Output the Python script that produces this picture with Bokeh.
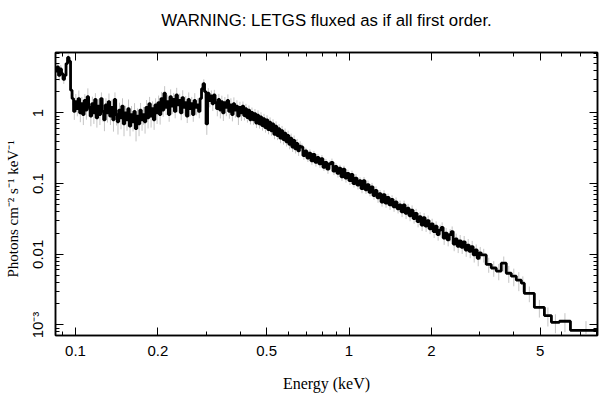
from bokeh.plotting import figure
from bokeh.models import Range1d, FixedTicker, LogAxis, CustomJSTickFormatter, Title
from bokeh.embed import file_html
from bokeh.resources import INLINE
import numpy as np

title_text = "WARNING: LETGS fluxed as if all first order."
x_label = "Energy (keV)"
y_label = "Photons cm\u207b\u00b2 s\u207b\u00b9 keV\u207b\u00b9"

x_ticks = [0.1, 0.2, 0.5, 1, 2, 5]
x_tick_labels = ["0.1", "0.2", "0.5", "1", "2", "5"]
x_minor = [0.09, 0.3, 0.4, 0.6, 0.7, 0.8, 0.9, 3, 4, 6, 7, 8]
y_ticks = [0.001, 0.01, 0.1, 1]
y_tick_labels = ["10\u207b\u00b3", "0.01", "0.1", "1"]

# --- fine channel grid, part 1 (0.0845 - 0.6669 keV) ---
grid1_keV = (0.0845, 0.6669)
flux_1 = [
    3.9, 4.5, 3.4, 4.2, 3.6, 3.0, 3.4, 5.0, 6.1, 5.4, 2.1, 1.6,
    1.05, 1.45, 1.15, 1.6, 1.0, 1.35, 0.95, 1.5, 1.1, 1.7, 1.2, 0.9,
    1.35, 1.0, 1.55, 0.85, 1.25, 0.95, 1.6, 1.05, 0.8, 1.3, 1.0, 1.45, 0.9,
    1.2, 0.8, 1.55, 0.95, 0.75, 1.1, 0.85, 1.25, 0.7, 1.0,
    0.8, 1.15, 0.65, 0.95, 0.75, 1.05, 0.6, 0.9, 0.7, 1.1, 0.8, 0.95, 0.75,
    1.2, 0.85, 1.35, 0.9, 1.15, 0.8, 1.3, 1.0, 1.4, 0.95,
    1.6, 1.1, 1.9, 1.2, 1.45, 0.95, 1.7, 1.25, 1.55, 1.05,
    1.8, 1.3, 1.5, 1.0, 1.65, 1.2, 1.4, 0.9, 1.55, 1.15,
    1.35, 0.95, 1.5, 1.2, 1.3, 1.05, 1.6,
    2.2, 2.6, 2.0, 0.7, 1.9, 1.5, 1.75, 1.35, 1.8, 1.4,
    1.15, 1.55, 1.1, 1.45, 1.0, 1.4, 1.2, 1.5, 1.05, 1.3,
    0.95, 1.35, 1.1, 1.25, 0.9, 1.2, 1.0,
    1.25, 0.92, 1.15, 0.86, 1.1, 0.8, 1.02, 0.8, 0.98, 0.72,
    0.93, 0.7, 0.88, 0.66, 0.83, 0.62, 0.8, 0.58, 0.74, 0.56,
    0.7, 0.5, 0.65, 0.48, 0.6, 0.44, 0.56, 0.42, 0.52, 0.39,
    0.48, 0.36, 0.44, 0.33, 0.41, 0.31, 0.37, 0.29, 0.34,
]
err_pct_1 = [
    15, 12, 16, 13, 15, 14, 16, 12, 10, 12, 18, 20,
    24, 28, 22, 30, 26, 25, 29, 23, 27, 31, 24, 28, 26, 30, 23, 27, 25, 29, 22, 28, 31, 24, 27, 30, 25,
    28, 32, 26, 30, 34, 27, 31, 29, 33, 26, 30, 35, 28, 32, 27, 31, 34, 29, 33, 26, 30, 28, 32, 27, 29, 25, 31,
    27, 28, 24, 30, 26, 28,
    24, 20, 26, 22, 25, 21, 27, 23, 24, 20, 26, 22, 25, 21, 27, 23, 24, 20, 26, 22, 25, 21, 27, 23, 24, 20, 26,
    18, 15, 19, 30, 18, 20, 19, 21, 18, 20,
    22, 20, 24, 21, 23, 20, 25, 22, 21, 24, 20, 23, 22, 21, 25, 20, 23,
    16, 15, 17, 15, 16, 14, 17, 15, 16, 15, 17, 14, 16, 15, 17, 15, 16, 14, 17, 15,
    16, 15, 17, 14, 16, 15, 17, 15, 16, 14, 17, 15, 16, 15, 17, 14, 16, 15, 17,
]

# --- channel grid, part 2 (0.6669 - 3.0432 keV) ---
grid2_keV = (0.6669, 3.0432)
flux_2 = [
    0.33, 0.25, 0.29, 0.23, 0.27, 0.21, 0.26, 0.20, 0.235, 0.19,
    0.225, 0.17, 0.2, 0.16, 0.19, 0.2, 0.15, 0.175, 0.14, 0.165,
    0.125, 0.16, 0.12, 0.14, 0.11, 0.135, 0.1, 0.12, 0.095, 0.11,
    0.085, 0.11, 0.082, 0.097, 0.075, 0.09, 0.068, 0.08, 0.063, 0.072,
    0.055, 0.07, 0.053, 0.064, 0.05, 0.06, 0.047, 0.055, 0.044, 0.05,
    0.04, 0.05, 0.038, 0.045, 0.035, 0.042, 0.032, 0.038, 0.029, 0.034,
    0.026, 0.033, 0.025, 0.03, 0.023, 0.027, 0.021, 0.025, 0.019, 0.022,
    0.024, 0.017, 0.02, 0.016, 0.019, 0.021, 0.014, 0.0165, 0.013, 0.0155,
    0.0125, 0.015, 0.0115, 0.0135, 0.011, 0.0128, 0.0098, 0.0115, 0.0088, 0.0105,
]
err_pct_2 = [
    12, 13, 11, 12, 13, 12, 11, 13, 12, 12, 13, 11, 12, 14, 12, 13, 12, 11, 13, 12,
    13, 12, 14, 12, 13, 13, 12, 14, 13, 12, 14, 13, 13, 14, 12, 14, 13, 14, 15, 13,
    14, 15, 14, 13, 15, 14, 15, 16, 14, 15, 16, 15, 17, 15, 16, 17, 15, 16, 17, 16,
    18, 16, 17, 18, 16, 18, 19, 17, 18, 19, 18, 20, 18, 19, 20, 18, 21, 19, 20, 21,
    19, 21, 20, 22, 20, 21, 22, 20, 23, 21,
]

# --- wide bins at high energy (lower edges, keV) ---
wide_lo = [3.0432, 3.1743, 3.3111, 3.4537, 3.6025, 3.7577, 3.9196, 4.0885,
           4.266, 4.375, 4.760, 5.180, 5.495, 5.878, 6.450]
wide_last_hi = 8.38
flux_w = [0.0098, 0.0072, 0.0064, 0.0058, 0.0075, 0.0054, 0.0049, 0.0043,
          0.0039, 0.0028, 0.00177, 0.00136, 0.00109, 0.00113, 0.00084]
err_pct_w = [22, 24, 25, 26, 24, 27, 28, 30, 25, 25, 28, 30, 30, 30, 35]


def fit(lst, n):
    lst = list(lst)
    if len(lst) < n:
        lst = lst + [lst[-1]] * (n - len(lst))
    return lst[:n]


e1 = list(np.geomspace(grid1_keV[0], grid1_keV[1], len(flux_1) + 1))
e2 = list(np.geomspace(grid2_keV[0], grid2_keV[1], len(flux_2) + 1))
edges = e1[:-1] + e2[:-1] + wide_lo + [wide_last_hi]
flux = flux_1 + flux_2 + flux_w
err_pct = fit(err_pct_1, len(flux_1)) + fit(err_pct_2, len(flux_2)) + fit(err_pct_w, len(flux_w))

centers = [float(np.sqrt(edges[i] * edges[i + 1])) for i in range(len(flux))]
err_lo = [f * (1 - r / 100.0) for f, r in zip(flux, err_pct)]
err_hi = [f * (1 + r / 100.0) for f, r in zip(flux, err_pct)]

W, H = 604, 395
p = figure(width=W, height=H, x_axis_type="log", y_axis_type="log",
           x_range=Range1d(0.0845, 8.1), y_range=Range1d(7.1e-4, 7.17),
           output_backend="svg", toolbar_location=None,
           min_border_left=55, min_border_right=7, min_border_top=52, min_border_bottom=60)
p.grid.visible = False
p.outline_line_color = "black"
p.outline_line_width = 1.5
p.background_fill_color = "white"
p.border_fill_color = "white"

fmt_code = """
for (let i = 0; i < tv.length; i++) {
  if (Math.abs(Math.log10(tick) - Math.log10(tv[i])) < 1e-6) return tl[i];
}
return "";
"""
y_minor = []
for k in (-4, -3, -2, -1, 0):
    for m in range(2, 10):
        y_minor.append(m * 10.0 ** k)


def style_axis(ax, show_labels, standoff=6):
    ax.major_tick_in = 8
    ax.major_tick_out = 0
    ax.minor_tick_in = 4
    ax.minor_tick_out = 0
    ax.axis_line_color = "black"
    ax.axis_line_width = 1.5
    ax.major_tick_line_color = "black"
    ax.minor_tick_line_color = "black"
    ax.major_tick_line_width = 1
    ax.minor_tick_line_width = 1
    ax.major_label_text_font = "Liberation Sans"
    ax.major_label_text_font_size = "15px" if show_labels else "0px"
    ax.major_label_text_color = "black"
    ax.major_label_standoff = standoff if show_labels else 0


xb = p.xaxis[0]
xb.ticker = FixedTicker(ticks=x_ticks, minor_ticks=x_minor)
xb.formatter = CustomJSTickFormatter(args=dict(tv=x_ticks, tl=x_tick_labels), code=fmt_code)
style_axis(xb, True, 10)
xb.axis_label = x_label
xb.axis_label_text_font = "Liberation Serif"
xb.axis_label_text_font_style = "normal"
xb.axis_label_text_font_size = "16px"
xb.axis_label_text_color = "black"
xb.axis_label_standoff = 16

yl = p.yaxis[0]
yl.ticker = FixedTicker(ticks=y_ticks, minor_ticks=y_minor)
yl.formatter = CustomJSTickFormatter(args=dict(tv=y_ticks, tl=y_tick_labels), code=fmt_code)
style_axis(yl, True, 9)
yl.major_label_orientation = "vertical"
yl.axis_label = y_label + "\u00a0" * 8
yl.axis_label_text_font = "Liberation Serif"
yl.axis_label_text_font_style = "normal"
yl.axis_label_text_font_size = "15px"
yl.axis_label_text_color = "black"
yl.axis_label_standoff = 6

xt = LogAxis(ticker=FixedTicker(ticks=x_ticks, minor_ticks=x_minor),
             formatter=CustomJSTickFormatter(code="return '';"))
style_axis(xt, False)
p.add_layout(xt, "above")
yr = LogAxis(ticker=FixedTicker(ticks=y_ticks, minor_ticks=y_minor),
             formatter=CustomJSTickFormatter(code="return '';"))
style_axis(yr, False)
p.add_layout(yr, "right")

# spacer between the frame and the title, then the title itself
spacer = Title(text="\u00a0", text_font_size="1px", standoff=18)
p.add_layout(spacer, "above")
main_title = Title(text=title_text, align="center", vertical_align="top", standoff=0,
                   text_font="Liberation Sans", text_font_size="16.8px",
                   text_font_style="normal", text_color="black")
p.add_layout(main_title, "above")

p.segment(x0=centers, y0=err_lo, x1=centers, y1=err_hi, line_color="#c4c4c4", line_width=1)
p.step(x=edges, y=flux + [flux[-1]], mode="after", line_color="black", line_width=2.8)

open("out.html", "w").write(file_html(p, INLINE))
